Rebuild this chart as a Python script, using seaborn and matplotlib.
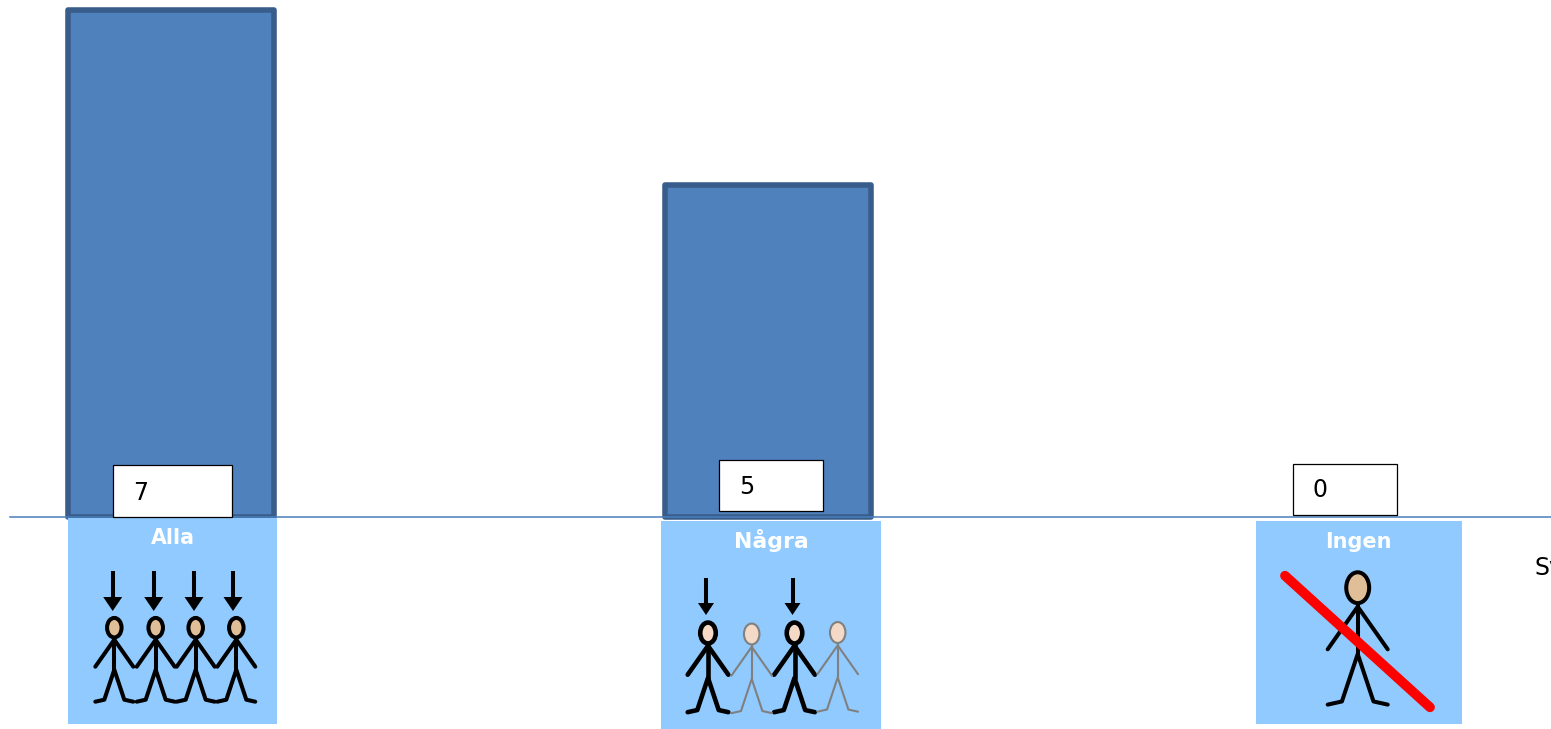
import matplotlib
matplotlib.use("Agg")
import matplotlib.pyplot as plt
import pandas as pd
import seaborn as sns
from matplotlib.patches import Ellipse, Polygon, Rectangle

categories = ["Alla", "Några", "Ingen"]
values = [7, 5, 0]

# the value axis of the original does not start at zero
y_floor = 1.2
y_top = 7.115

BAR_FILL = "#4F81BD"
BAR_EDGE = "#385D8A"
BASELINE = "#4A7EBB"
PANEL = "#90CAFF"
SKIN = "#E0BF98"
SKIN_LIGHT = "#F3D9C6"
GREY = "#808080"

W, H = 1551, 729


def person(ax, cx, head_y, scale=1.0, color="black", skin=SKIN, lw=2.9):
    """Stick figure in pixel coordinates, head_y is the centre of the head."""
    def pt(dx, dy):
        return cx + dx * scale, head_y + dy * scale

    strokes = [
        [pt(0, 10), pt(0, 42)],
        [pt(-19, 39), pt(0, 12), pt(19, 39)],
        [pt(-19, 74), pt(-10, 72), pt(0, 42), pt(10, 72), pt(19, 74)],
    ]
    for stroke in strokes:
        xs, ys = zip(*stroke)
        ax.plot(xs, ys, color=color, lw=lw, solid_capstyle="round", solid_joinstyle="round", zorder=5)
    ax.add_patch(Ellipse((cx, head_y), 14.5 * scale, 19.5 * scale, facecolor=skin, edgecolor=color, lw=lw, zorder=6))


def arrow(ax, x, top, head_top, tip, half_width):
    ax.plot([x, x], [top, head_top], color="black", lw=2.9, solid_capstyle="butt", zorder=5)
    ax.add_patch(Polygon([(x - half_width, head_top), (x + half_width, head_top), (x, tip)],
                         facecolor="black", edgecolor="none", zorder=5))


def panel(ax, left, right, top, bottom, label, label_x, label_y, size):
    ax.add_patch(Rectangle((left, top), right - left, bottom - top, facecolor=PANEL, edgecolor="none", zorder=3))
    ax.text(label_x, label_y, label, color="white", fontweight="bold", fontsize=size,
            ha="center", va="center", zorder=5)


def value_box(ax, left, right, top, bottom, value, text_x, text_y):
    ax.add_patch(Rectangle((left, top), right - left, bottom - top, facecolor="white",
                           edgecolor="black", lw=0.9, zorder=4))
    ax.text(text_x, text_y, str(value), color="black", fontsize=17, ha="left", va="center", zorder=5)


sns.set_style("white")
plt.rcParams["font.family"] = ["DejaVu Sans"]

df = pd.DataFrame({"category": categories, "value": values})

fig = plt.figure(figsize=(W / 100, H / 100), dpi=100)
ax = fig.add_axes([10 / W, (H - 517) / H, (W - 10) / W, 517 / H])

sns.barplot(data=df, x="category", y="value", order=categories, color=BAR_FILL, saturation=1,
            width=0.344, edgecolor=BAR_EDGE, linewidth=4.0, ax=ax)

for bar, value in zip(ax.patches, values):
    if value <= y_floor:
        bar.set_visible(False)
        continue
    bar.set_y(y_floor)
    bar.set_height(value - y_floor)
    bar.set_joinstyle("round")
    bar.set_clip_on(False)

ax.set_xlim(-0.269, 2.31)
ax.set_ylim(y_floor, y_top)
ax.set_xticks([])
ax.set_yticks([])
ax.set_xlabel("")
ax.set_ylabel("")
sns.despine(ax=ax, left=True)
ax.spines["bottom"].set_color(BASELINE)
ax.spines["bottom"].set_linewidth(1.1)
ax.spines["bottom"].set_zorder(6)

# overlay in pixel coordinates for the pasted pictures and the text boxes
over = fig.add_axes([0, 0, 1, 1], facecolor="none")
over.set_xlim(0, W)
over.set_ylim(H, 0)
over.axis("off")

value_box(over, 113, 231.5, 465, 517, values[0], 133, 493)
value_box(over, 719, 823, 459.5, 511, values[1], 739, 487)
value_box(over, 1293, 1397, 463.5, 515, values[2], 1312.5, 490)

# Alla
panel(over, 68, 277, 518, 724, categories[0], 173, 537.5, 14.8)
for x in [112.7, 153.7, 194, 233]:
    arrow(over, x, 571, 597, 611, 9.5)
for x in [114.3, 155.7, 195.7, 236.3]:
    person(over, x, 627.7)

# Några
panel(over, 661, 881, 521, 729, categories[1], 771, 540, 15.8)
for x in [706, 792.5]:
    arrow(over, x, 578, 603, 615, 8)
person(over, 708, 633, scale=1.07, skin=SKIN_LIGHT, lw=3.3)
person(over, 794.5, 633, scale=1.07, skin=SKIN_LIGHT, lw=3.3)
person(over, 751.7, 634, scale=1.07, color=GREY, skin=SKIN_LIGHT, lw=1.5)
person(over, 837.7, 632.5, scale=1.07, color=GREY, skin=SKIN_LIGHT, lw=1.5)

# Ingen
panel(over, 1256, 1462, 521, 724, categories[2], 1358, 542, 15)
person(over, 1357.7, 587.7, scale=1.58, lw=2.9)
over.plot([1285, 1430], [575.7, 707.3], color="#FF0000", lw=7, solid_capstyle="round", zorder=7)

over.text(1534, 568, "Sv", color="black", fontsize=17, ha="left", va="center")

fig.savefig("out.png", dpi=100)
